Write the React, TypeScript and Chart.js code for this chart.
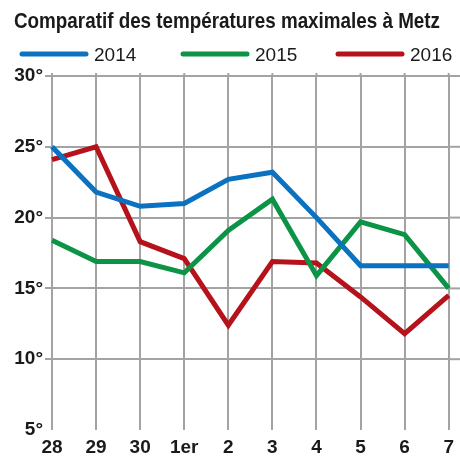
import { useEffect, useRef } from "react";
import { Chart, registerables } from "chart.js";
Chart.register(...registerables);

const categories = ["28", "29", "30", "1er", "2", "3", "4", "5", "6", "7"];
const series2014 = [25.0, 21.8, 20.8, 21.0, 22.7, 23.2, 20.0, 16.6, 16.6, 16.6];
const series2015 = [18.4, 16.9, 16.9, 16.1, 19.1, 21.3, 15.9, 19.7, 18.8, 15.0];
const series2016 = [24.1, 25.0, 18.3, 17.1, 12.4, 16.9, 16.8, 14.4, 11.8, 14.5];
const seriesLabels = ["2014", "2015", "2016"];
const seriesColors = ["#0a72c0", "#0b9346", "#b5121b"];
const yMin = 5;
const yMax = 30;
const yStep = 5;
const titleText = "Comparatif des températures maximales à Metz";

const legendStarts = [20, 181, 336];
const gridColor = "#a3a3a3";

const gridExtendPlugin = {
  id: "gridExtend",
  beforeDatasetsDraw(chart: any) {
    const ctx = chart.ctx as CanvasRenderingContext2D;
    const { right, top } = chart.chartArea;
    const yScale = chart.scales.y;
    const xScale = chart.scales.x;
    ctx.save();
    ctx.strokeStyle = gridColor;
    ctx.lineWidth = 2;
    yScale.ticks.forEach((t: any) => {
      if (t.value === yMin) return;
      const y = yScale.getPixelForValue(t.value);
      ctx.beginPath();
      ctx.moveTo(right, y);
      ctx.lineTo(chart.width, y);
      ctx.stroke();
    });
    xScale.ticks.forEach((_t: any, i: number) => {
      const x = xScale.getPixelForTick(i);
      ctx.beginPath();
      ctx.moveTo(x, top);
      ctx.lineTo(x, top - 3);
      ctx.stroke();
    });
    ctx.restore();
  },
};

const headerPlugin = {
  id: "header",
  afterDraw(chart: any) {
    const ctx = chart.ctx as CanvasRenderingContext2D;
    ctx.save();
    ctx.font = 'bold 22px "Liberation Sans Narrow", "Liberation Sans", Arial, sans-serif';
    ctx.fillStyle = "#1a1a1a";
    ctx.textBaseline = "alphabetic";
    const w = ctx.measureText(titleText).width;
    const sx = 426 / w;
    ctx.translate(14, 28);
    ctx.scale(sx, 1);
    ctx.fillText(titleText, 0, 0);
    ctx.restore();

    chart.data.datasets.forEach((ds: any, i: number) => {
      const x0 = legendStarts[i];
      ctx.save();
      ctx.strokeStyle = ds.borderColor;
      ctx.lineWidth = 5;
      ctx.lineCap = "round";
      ctx.beginPath();
      ctx.moveTo(x0 + 2, 54);
      ctx.lineTo(x0 + 66, 54);
      ctx.stroke();
      ctx.font = '19px "Liberation Sans", Arial, sans-serif';
      ctx.fillStyle = "#1a1a1a";
      ctx.textBaseline = "alphabetic";
      ctx.fillText(ds.label, x0 + 74, 61);
      ctx.restore();
    });
  },
};

export default function App() {
  const ref = useRef<HTMLCanvasElement | null>(null);
  useEffect(() => {
    if (!ref.current) return;
    const values = [series2014, series2015, series2016];
    const chart = new Chart(ref.current, {
      type: "line",
      data: {
        labels: categories,
        datasets: values.map((v, i) => ({
          label: seriesLabels[i],
          data: v,
          borderColor: seriesColors[i],
          backgroundColor: seriesColors[i],
          borderWidth: 5,
          pointRadius: 0,
          tension: 0,
          fill: false,
        })),
      },
      options: {
        responsive: false,
        animation: false,
        layout: { padding: { top: 76, right: 9, bottom: 0, left: 0 } },
        plugins: {
          legend: { display: false },
          title: { display: false },
          tooltip: { enabled: false },
        },
        scales: {
          x: {
            offset: false,
            border: { display: false },
            grid: {
              color: gridColor,
              lineWidth: 2,
              drawTicks: false,
            },
            ticks: {
              padding: 6,
              color: "#1a1a1a",
              font: { family: '"Liberation Sans", Arial, sans-serif', size: 19, weight: "bold" },
              maxRotation: 0,
              autoSkip: false,
            },
            afterFit(scale: any) {
              scale.height = 34;
            },
          },
          y: {
            min: yMin,
            max: yMax,
            border: { display: false },
            grid: {
              color: (c: any) => (c.tick && c.tick.value === yMin ? "rgba(0,0,0,0)" : gridColor),
              lineWidth: 2,
              drawTicks: true,
              tickLength: 7,
            },
            ticks: {
              stepSize: yStep,
              padding: 2,
              color: "#1a1a1a",
              font: { family: '"Liberation Sans", Arial, sans-serif', size: 19, weight: "bold" },
              callback: (v: any) => `${v}°`,
            },
            afterFit(scale: any) {
              scale.width = 52;
            },
          },
        },
      },
      plugins: [gridExtendPlugin, headerPlugin],
    });
    return () => chart.destroy();
  }, []);
  return (
    <div style={{ position: "fixed", left: 0, top: 0, width: 460, height: 464, background: "#fff" }}>
      <canvas ref={ref} width={460} height={464} style={{ display: "block" }} />
    </div>
  );
}
